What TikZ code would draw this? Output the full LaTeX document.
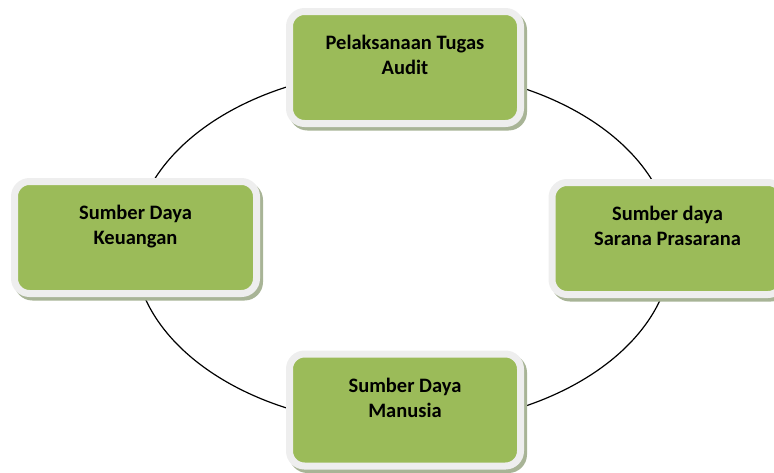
\documentclass[tikz,border=0pt]{standalone}
\usepackage{fontspec}
\setmainfont{Carlito}
\usetikzlibrary{backgrounds}
\definecolor{boxgreen}{RGB}{155,187,89}
\definecolor{boxrim}{RGB}{238,238,238}
\definecolor{boxshade}{RGB}{168,180,150}
\newcommand{\stagetext}[2]{#1\\#2\\\mbox{}}
\tikzset{
  stage/.style={rectangle, rounded corners=15pt, fill=boxgreen, draw=boxrim, line width=7pt,
    minimum width=231pt, minimum height=112pt, inner sep=0pt, align=center,
    font=\fontsize{20.5pt}{25pt}\selectfont\bfseries,
    preaction={draw=boxshade, fill=boxshade, transform canvas={xshift=3pt, yshift=-3.5pt}}},
  ring/.style={draw=black, line width=1.2pt}
}

\begin{document}
\begin{tikzpicture}[x=1pt, y=-1pt]
\useasboundingbox (0,0) rectangle (774,472);
\node[stage] (audit) at (405,67.5) {\stagetext{Pelaksanaan Tugas}{Audit}};
\node[stage, minimum width=242pt] (uang) at (135.5,237.5) {\stagetext{Sumber Daya}{Keuangan}};
\node[stage] (sarana) at (667.5,238.5) {\stagetext{Sumber daya}{Sarana Prasarana}};
\node[stage] (manusia) at (405,410) {\stagetext{Sumber Daya}{Manusia}};
\coordinate (hub) at (403,247.5);
% the cycle ring behind the boxes
\begin{scope}[on background layer]
\draw[ring] (hub) ellipse [x radius=269pt, y radius=178pt];
\end{scope}
\end{tikzpicture}
\end{document}
